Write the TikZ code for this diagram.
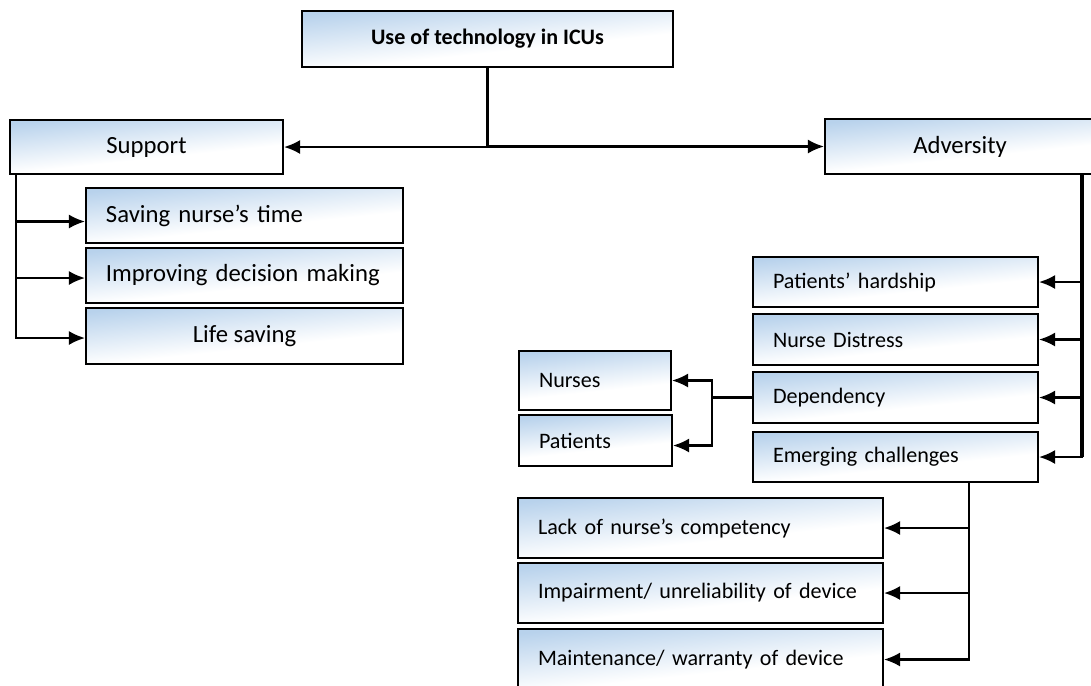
\documentclass[tikz,border=0pt]{standalone}
\usepackage{fontspec}
\setmainfont{Carlito}
\usetikzlibrary{arrows.meta}

\definecolor{boxblue}{RGB}{184,210,236}
\pgfdeclareverticalshading{boxfade}{100bp}{color(0bp)=(white); color(42bp)=(white);
  color(75bp)=(boxblue); color(100bp)=(boxblue)}
\newcommand\pxu{0.0175cm}
\newcommand\bigtxt{\fontsize{12.3}{14}\selectfont}
\newcommand\smalltxt{\fontsize{11}{13}\selectfont}

\tikzset{
  item/.style={draw, line width=1pt, shade, shading=boxfade, shading angle=6,
    inner sep=0pt},
  sz/.style 2 args={minimum width=#1*\pxu, minimum height=#2*\pxu},
  lefttext/.style={align=left, text width=#1*\pxu},
  link/.style={line width=1.1pt, -{Latex[length=8pt,width=7pt]}},
}

\begin{document}
\begin{tikzpicture}[x=\pxu, y=-\pxu]
\useasboundingbox (0,0) rectangle (1091,685);
% top
\node[item, sz={371}{56}, font=\smalltxt\bfseries] (icu) at (487.5,39) {Use of technology in ICUs};
% support side
\node[item, sz={273}{54}, font=\bigtxt] (support) at (146.5,147) {Support};
\node[item, sz={317}{55}, lefttext=277, font=\bigtxt] (saving) at (244.5,215.5) {Saving nurse’s time};
\node[item, sz={317}{55}, lefttext=277, font=\bigtxt] (improving) at (244.5,275.5) {Improving decision making};
\node[item, sz={317}{56}, font=\bigtxt] (lifesaving) at (244.5,336) {Life saving};
% adversity side
\node[item, sz={270}{55}, font=\bigtxt] (adversity) at (960,146.5) {Adversity};
\node[item, sz={285}{50}, lefttext=245, font=\smalltxt] (hardship) at (895.5,282) {Patients’ hardship};
\node[item, sz={285}{51}, lefttext=245, font=\smalltxt] (distress) at (895.5,339.5) {Nurse Distress};
\node[item, sz={285}{51}, lefttext=245, font=\smalltxt] (dependency) at (895.5,397.5) {Dependency};
\node[item, sz={285}{50}, lefttext=245, font=\smalltxt] (emerging) at (895.5,457) {Emerging challenges};
\node[item, sz={152}{59}, lefttext=112, font=\smalltxt] (nurses) at (595,380.5) {Nurses};
\node[item, sz={153}{51}, lefttext=113, font=\smalltxt] (patients) at (595.5,440.5) {Patients};
\node[item, sz={365}{60}, lefttext=325, font=\smalltxt] (lack) at (700.5,528) {Lack of nurse’s competency};
\node[item, sz={365}{60}, lefttext=325, font=\smalltxt] (impair) at (700.5,593) {Impairment/ unreliability of device};
\node[item, sz={365}{61}, lefttext=325, font=\smalltxt] (maint) at (700.5,659.5) {Maintenance/ warranty of device};

% connectors
\draw[link] (icu.south) |- (support.east);
\draw[link] (icu.south) |- (adversity.west);
\draw[line width=1.3pt] (support.south west) ++(7,0) -- ++(0,164);
\draw[link] (support.south west) ++(7,0) |- ([yshift=-6*\pxu]saving.west);
\draw[link] (support.south west) ++(7,0) |- ([yshift=-2.5*\pxu]improving.west);
\draw[link] (support.south west) ++(7,0) |- ([yshift=-2*\pxu]lifesaving.west);
\draw[line width=1.7pt] (adversity.south east) ++(-14,0) -- ++(0,282);
\draw[link] (adversity.south east) ++(-14,0) |- (hardship.east);
\draw[link] (adversity.south east) ++(-14,0) |- (distress.east);
\draw[link] (adversity.south east) ++(-14,0) |- (dependency.east);
\draw[link] (adversity.south east) ++(-14,0) |- (emerging.east);
\draw[link] (dependency.west) -- ++(-40,0) |- (nurses.east);
\draw[link] (dependency.west) -- ++(-40,0) |- ([yshift=-5*\pxu]patients.east);
\draw[link] (emerging.south east) ++(-70,0) |- (lack.east);
\draw[link] (emerging.south east) ++(-70,0) |- (impair.east);
\draw[link] (emerging.south east) ++(-70,0) |- (maint.east);
\end{tikzpicture}
\end{document}
